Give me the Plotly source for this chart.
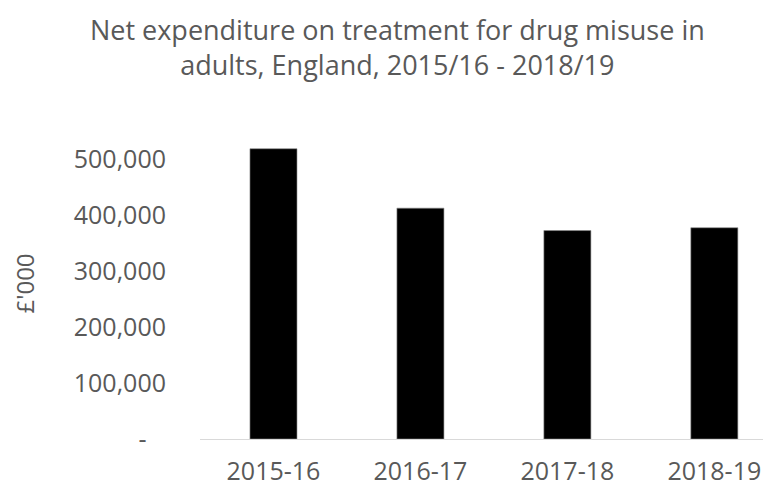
import plotly.graph_objects as go

categories = ["2015-16", "2016-17", "2017-18", "2018-19"]
values = [518000, 412000, 372000, 377000]
tick_vals = [0, 100000, 200000, 300000, 400000, 500000]
tick_text = ["-\u00a0\u00a0\u00a0", "100,000", "200,000", "300,000", "400,000", "500,000"]

FONT = "Open Sans"
GREY = "#595959"

fig = go.Figure(
    go.Bar(
        x=list(range(len(categories))),
        y=values,
        width=0.32,
        marker=dict(color="#000000", line=dict(color="#8c8c8c", width=0.6)),
        hoverinfo="skip",
    )
)

fig.update_layout(
    width=771,
    height=488,
    margin=dict(l=192, r=0, t=120, b=57, autoexpand=False),
    paper_bgcolor="white",
    plot_bgcolor="white",
    showlegend=False,
    font=dict(family=FONT, size=25, color=GREY),
    title=dict(
        text="Net expenditure on treatment for drug misuse in<br>adults, England, 2015/16 - 2018/19",
        x=0.505,
        xanchor="center",
        xref="container",
        yref="container",
        y=1 - 32 / 488,
        yanchor="middle",
        font=dict(family=FONT, size=27, color=GREY),
    ),
    xaxis=dict(
        range=[-0.5, 3.44],
        tickvals=list(range(len(categories))),
        ticktext=categories,
        showgrid=False,
        zeroline=False,
        showline=True,
        linecolor="#d9d9d9",
        linewidth=1,
        ticks="",
        automargin=False,
        ticklabelstandoff=10,
        tickfont=dict(family=FONT, size=25, color=GREY),
    ),
    yaxis=dict(
        range=[0, 555000],
        tickvals=tick_vals,
        ticktext=tick_text,
        showgrid=False,
        zeroline=False,
        showline=False,
        ticks="",
        automargin=False,
        ticklabelstandoff=33,
        tickfont=dict(family=FONT, size=25, color=GREY),
        title=dict(text="£'000", standoff=46, font=dict(family=FONT, size=24, color=GREY)),
    ),
)

fig.write_html("out.html")
